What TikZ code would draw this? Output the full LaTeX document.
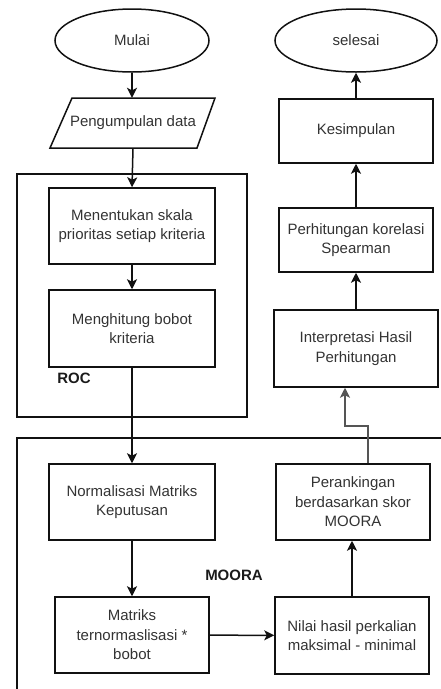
\documentclass[tikz,border=0pt]{standalone}
\usepackage{fontspec}
\setmainfont{Liberation Sans}
\usetikzlibrary{shapes.geometric,arrows.meta,calc}
\definecolor{txt}{HTML}{333333}
\definecolor{lbl}{HTML}{1A1A1A}
\definecolor{ln}{HTML}{111111}
\definecolor{gln}{HTML}{555555}
\begin{document}
\begin{tikzpicture}[x=1pt,y=-1pt,
  base/.style={align=center, text=txt, font=\fontsize{15}{19.5}\selectfont, inner sep=0pt},
  box/.style={base, draw=ln, line width=1.5pt, rectangle},
  term/.style={base, draw=ln, line width=1.5pt, ellipse},
  frame/.style={draw=ln, line width=1.5pt},
  grouplabel/.style={text=lbl, font=\bfseries\fontsize{15}{18}\selectfont, inner sep=0pt},
  arr/.style={draw=ln, line width=1.5pt, -{Stealth[length=10pt,width=10pt,inset=2.5pt]}},
  garr/.style={draw=gln, line width=1.5pt, -{Stealth[length=10pt,width=10pt,inset=2.5pt]}}]
\useasboundingbox (0,0) rectangle (441,689);

% containers
\node[frame, minimum width=230, minimum height=243, inner sep=0pt] (roc) at (132,295.5) {};
\draw[frame] (441,438) -- (17,438) -- (17,689);

% left column
\node[term, minimum width=154, minimum height=63] (mulai) at (132,40.5) {Mulai};
\node[base, minimum width=125, minimum height=50] (pd) at (133,123) {Pengumpulan data};
\draw[frame] (72,98) -- (215,98) -- (197,148) -- (50,148) -- cycle;
\node[box, minimum width=166, minimum height=76] (m1) at (132,226) {Menentukan skala\\prioritas setiap kriteria};
\node[box, minimum width=166, minimum height=77] (m2) at (132,328.5) {Menghitung bobot\\kriteria};
\node[grouplabel] (roclbl) at (74,378) {ROC};

\node[box, minimum width=166, minimum height=76] (n1) at (132,502) {Normalisasi Matriks\\Keputusan};
\node[box, minimum width=154, minimum height=76] (n2) at (132,635) {Matriks\\ternormaslisasi *\\bobot};
\node[box, minimum width=154, minimum height=77] (n3) at (352,635.5) {Nilai hasil perkalian\\maksimal - minimal};
\node[box, minimum width=154, minimum height=76] (n4) at (353,502) {Perankingan\\berdasarkan skor\\MOORA};
\node[grouplabel] (mooralbl) at (234,575) {MOORA};

% right column
\node[box, minimum width=164, minimum height=77] (r1) at (356,348.5) {Interpretasi Hasil\\Perhitungan};
\node[box, minimum width=154, minimum height=64] (r2) at (356,240) {Perhitungan korelasi\\Spearman};
\node[box, minimum width=154, minimum height=64] (r3) at (356,131) {Kesimpulan};
\node[term, minimum width=162, minimum height=63] (sel) at (356,40.5) {selesai};

% connectors
\draw[arr] (mulai.south) -- (mulai.south |- pd.north);
\draw[arr] (pd.south) -- (m1.north);
\draw[arr] (m1) -- (m2);
\draw[arr] (m2) -- (n1);
\draw[arr] (n1) -- (n2);
\draw[arr] (n2) -- (n3);
\draw[arr] (n3.north) -- (n3.north |- n4.south);
\coordinate (k1) at ($(n4.north)+(15,0)$);
\coordinate (k2) at ($(r1.south)+(-11,0)$);
\draw[garr] (k1) -- (k1 |- 0,426) -- (k2 |- 0,426) -- (k2);
\draw[arr] (r1) -- (r2);
\draw[arr] (r2) -- (r3);
\draw[arr] (r3) -- (sel);
\end{tikzpicture}
\end{document}
